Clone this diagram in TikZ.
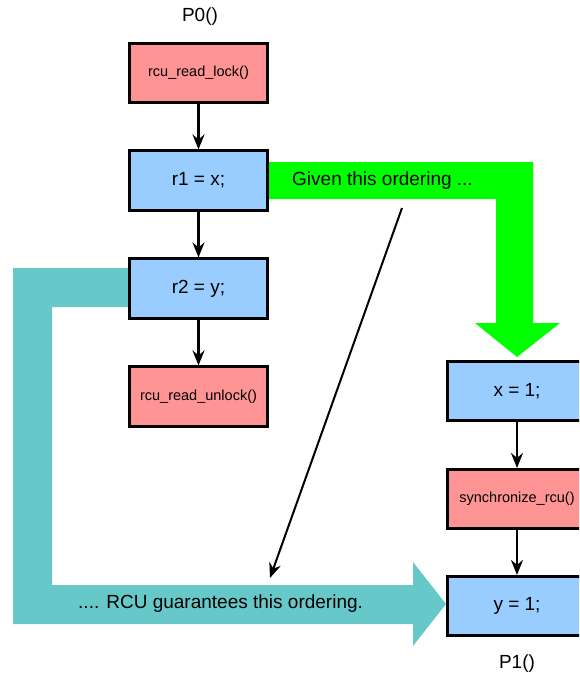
\documentclass[tikz,border=0pt]{standalone}
\usepackage{fontspec}
\setmainfont{Liberation Sans}
\usetikzlibrary{arrows.meta}
\definecolor{boxred}{HTML}{FF9494}
\definecolor{boxblue}{HTML}{99CCFF}
\definecolor{bandgreen}{HTML}{00FF00}
\definecolor{bandteal}{HTML}{66C8C8}
\begin{document}
\begin{tikzpicture}[x=1pt,y=-1pt,
  stmt/.style={draw=black,line width=2.6pt,minimum width=138.5pt,minimum height=59.5pt,inner sep=0pt,
    font=\fontsize{19}{22}\selectfont},
  redbox/.style={stmt,fill=boxred,font=\fontsize{14.5}{17}\selectfont},
  bluebox/.style={stmt,fill=boxblue},
  flow/.style={line width=2.5pt,-{Stealth[length=15pt,width=12pt,inset=5pt]}},
  lbl/.style={font=\fontsize{19}{22}\selectfont,inner sep=0pt}]
\clip (0,0) rectangle (579,675);
% teal band (RCU guarantee)
\fill[bandteal] (140,268) -- (13,268) -- (13,624) -- (413,624) -- (413,646) -- (446,604)
  -- (413,562) -- (413,585) -- (52,585) -- (52,307) -- (140,307) -- cycle;
% green band (given ordering)
\fill[bandgreen] (260,162) -- (533,162) -- (533,323) -- (560,323) -- (517,357) -- (475,323)
  -- (496,323) -- (496,199) -- (260,199) -- cycle;
% P0
\node[lbl] (p0) at (200,17) {P0()};
\node[redbox] (lock) at (198.5,73) {rcu\_read\_lock()};
\node[bluebox] (r1) at (198.5,180.5) {r1 = x;};
\node[bluebox] (r2) at (198.5,288.5) {r2 = y;};
\node[redbox] (unlock) at (198.5,396.5) {rcu\_read\_unlock()};
% P1
\node[bluebox] (x1) at (517,391) {x = 1;};
\node[redbox] (sync) at (517,499) {synchronize\_rcu()};
\node[bluebox] (y1) at (517,606) {y = 1;};
\node[lbl] (p1) at (517,664) {P1()};
% labels
\node[lbl,anchor=west] (given) at (292,181) {Given this ordering ...};
\node[lbl,anchor=west] (guar) at (78,604) {.... RCU guarantees this ordering.};
% connectors
\draw[flow] (lock) -- (r1);
\draw[flow] (r1) -- (r2);
\draw[flow] (r2) -- (unlock);
\draw[flow] (x1) -- (sync);
\draw[flow] (sync) -- (y1);
\coordinate (dstart) at (402,208);
\coordinate (dend) at (270,578);
\draw[flow,line width=2pt] (dstart) -- (dend);
\end{tikzpicture}
\end{document}
